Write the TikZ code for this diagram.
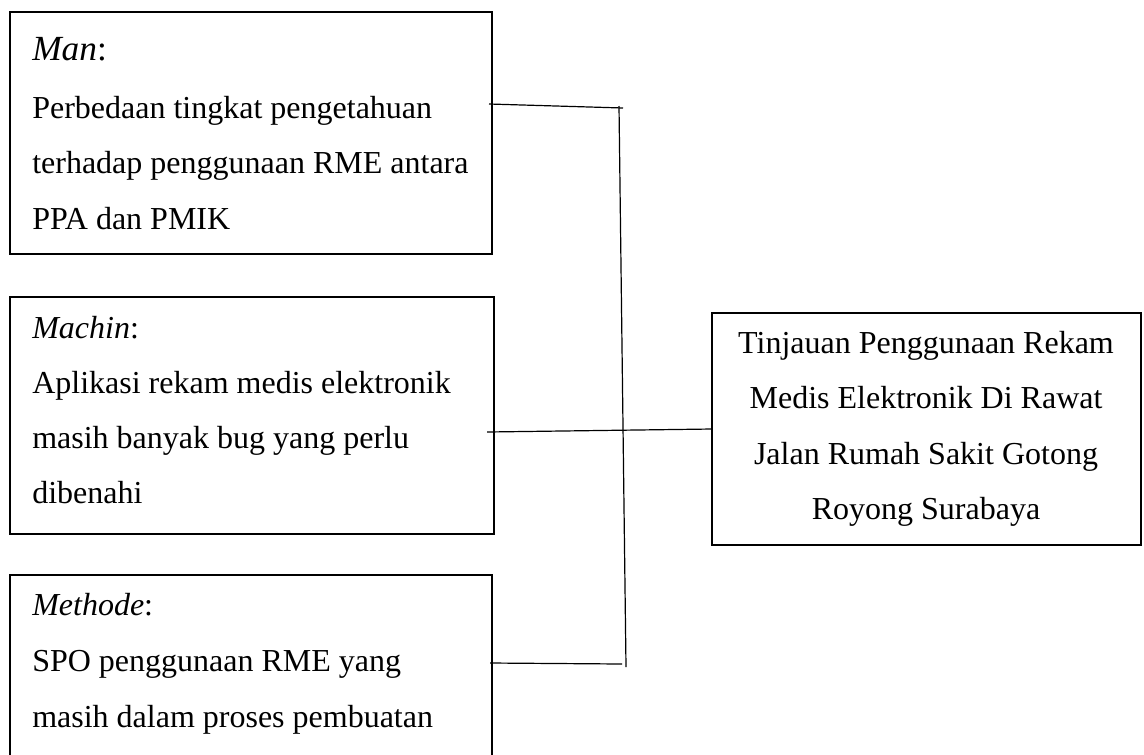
\documentclass[tikz,border=0pt]{standalone}
\usepackage{fontspec}
\setmainfont{Liberation Serif}
\begin{document}
\begin{tikzpicture}[x=0.75pt,y=-0.75pt,
  box/.style={draw=black,line width=1.8pt,inner sep=0pt,outer sep=0pt,anchor=north west,rectangle},
  txt/.style={inner sep=0pt,anchor=base west,font=\fontsize{24pt}{28pt}\selectfont},
  ctxt/.style={inner sep=0pt,anchor=base,font=\fontsize{24pt}{28pt}\selectfont},
  head/.style={inner sep=0pt,anchor=base west,font=\fontsize{26.5pt}{30pt}\selectfont},
  conn/.style={draw=black,line width=0.9pt}]
\useasboundingbox (0,0) rectangle (1144,754);
\clip (0,0) rectangle (1144,754);
% boxes
\node[box,minimum width=361.5pt,minimum height=181.5pt] (man) at (10,12) {};
\node[box,minimum width=363pt,minimum height=177.75pt] (machin) at (10,297) {};
\node[box,minimum width=361.5pt,minimum height=150pt] (methode) at (10,575) {};
\node[box,minimum width=321.75pt,minimum height=174pt] (goal) at (712,313) {};
% texts
\node[head] (t1a) at (32,60) {\textit{Man}:};
\node[txt] (t1b) at (32,118) {Perbedaan tingkat pengetahuan};
\node[txt] (t1c) at (32,173) {terhadap penggunaan RME antara};
\node[txt] (t1d) at (32,229) {PPA dan PMIK};
\node[txt] (t2a) at (32,338) {\textit{Machin}:};
\node[txt] (t2b) at (32,393) {Aplikasi rekam medis elektronik};
\node[txt] (t2c) at (32,448) {masih banyak bug yang perlu};
\node[txt] (t2d) at (32,503) {dibenahi};
\node[txt] (t3a) at (32,615) {\textit{Methode}:};
\node[txt] (t3b) at (32,671) {SPO penggunaan RME yang};
\node[txt] (t3c) at (32,727) {masih dalam proses pembuatan};
\node[ctxt] (g1) at (926,353) {Tinjauan Penggunaan Rekam};
\node[ctxt] (g2) at (926,408) {Medis Elektronik Di Rawat};
\node[ctxt] (g3) at (926,464) {Jalan Rumah Sakit Gotong};
\node[ctxt] (g4) at (926,519) {Royong Surabaya};
% connector points
\coordinate (s1) at (489,104);
\coordinate (e1) at (623,108);
\coordinate (vt) at (619,106);
\coordinate (vb) at (626,667);
\coordinate (s2) at (487,432);
\coordinate (s3) at (490,663);
\coordinate (e3) at (622,664);
\draw[conn] (s1) -- (e1);
\draw[conn] (vt) -- (vb);
\draw[conn] (s2) -- (goal.west |- 0,429);
\draw[conn] (s3) -- (e3);
\end{tikzpicture}
\end{document}
